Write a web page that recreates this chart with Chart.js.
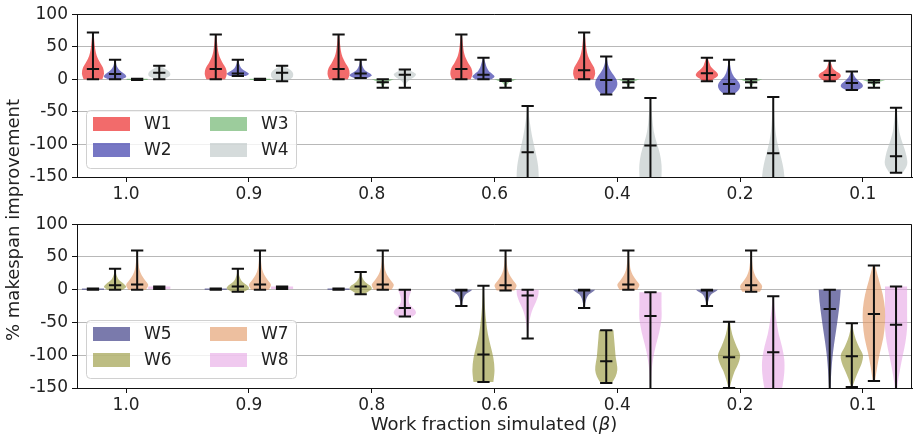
<!DOCTYPE html>
<html>
<head>
<meta charset="utf-8">
<script src="https://cdn.jsdelivr.net/npm/chart.js@4.4.0/dist/chart.umd.min.js"></script>
<style>
body { margin: 0; background: #fff; }
#wrap { position: relative; width: 914px; height: 441px; overflow: hidden; font-family: "DejaVu Sans", sans-serif; color: #222; }
canvas { position: absolute; left: 0; }
#ylab { position: absolute; left: -137px; top: 209px; width: 300px; height: 22px; line-height: 22px; text-align: center; font-size: 18px; transform: rotate(-90deg); }
#xlab { position: absolute; left: 244px; top: 413px; width: 500px; text-align: center; font-size: 18px; line-height: 22px; }
</style>
</head>
<body>
<div id="wrap">
  <canvas id="top" width="914" height="210" style="top:0"></canvas>
  <canvas id="bottom" width="914" height="231" style="top:210px"></canvas>
  <div id="ylab">% makespan improvement</div>
  <div id="xlab">Work fraction simulated (<i>β</i>)</div>
</div>
<script>
// x categories (work fraction) and y ticks
const groups = ['1.0', '0.9', '0.8', '0.6', '0.4', '0.2', '0.1'];
const yTicks = [-150, -100, -50, 0, 50, 100];
const offsets = [-0.27, -0.09, 0.09, 0.27];

// top panel
const topNames = ['W1', 'W2', 'W3', 'W4'];
const topColors = ['rgba(233,8,8,0.6)', 'rgba(28,28,157,0.6)', 'rgba(90,170,90,0.6)', 'rgba(185,195,195,0.6)'];

const w1Min = [0, 0, 0, 0, 0, -3, -3];
const w1Med = [16, 16, 16, 16, 14, 9.5, 6.5];
const w1Max = [72, 69, 69, 69, 72, 33, 28.5];
const w1Shape = [
  [0.85, 1.0, 0.9, 0.6, 0.35, 0.22, 0.15, 0.1, 0.05],
  [0.85, 1.0, 0.9, 0.6, 0.35, 0.22, 0.15, 0.1, 0.05],
  [0.85, 1.0, 0.9, 0.6, 0.35, 0.22, 0.15, 0.1, 0.05],
  [0.85, 1.0, 0.9, 0.6, 0.35, 0.22, 0.15, 0.1, 0.05],
  [0.85, 1.0, 0.9, 0.6, 0.35, 0.22, 0.15, 0.1, 0.05],
  [0.3, 0.7, 1.0, 0.9, 0.6, 0.35, 0.25, 0.15, 0.08],
  [0.4, 0.8, 1.0, 0.9, 0.55, 0.3, 0.2, 0.12, 0.06]
];

const w2Min = [0, 5, 2, 0, -23.5, -22, -16.5];
const w2Med = [8, 9, 9, 7, -1, -7, -5.5];
const w2Max = [30, 30, 30, 33, 35, 30, 12];
const w2Shape = [
  [0.6, 1.0, 0.9, 0.6, 0.35, 0.2, 0.12, 0.08, 0.04],
  [0.7, 1.0, 0.8, 0.5, 0.3, 0.2, 0.12, 0.08, 0.05],
  [0.6, 1.0, 0.85, 0.5, 0.3, 0.18, 0.12, 0.08, 0.05],
  [0.7, 1.0, 0.8, 0.5, 0.35, 0.25, 0.18, 0.1, 0.05],
  [0.4, 0.8, 1.0, 0.95, 0.7, 0.4, 0.2, 0.1, 0.05],
  [0.5, 0.9, 1.0, 0.8, 0.45, 0.25, 0.15, 0.08, 0.04],
  [0.5, 0.9, 1.0, 0.85, 0.6, 0.4, 0.25, 0.15, 0.08]
];

const w3Min = [-1, -1, -13, -13, -13, -13, -13];
const w3Med = [0, 0, -4.5, -2.5, -4.5, -4.5, -5];
const w3Max = [1, 1, 0, 0, 0, 0, -1];
const funnel = [0.05, 0.08, 0.1, 0.15, 0.2, 0.3, 0.45, 0.75, 1.0];
const w3Shape = [
  [0.9, 1.0, 0.9], [0.9, 1.0, 0.9], funnel, funnel, funnel, funnel, funnel
];

const w4Min = [0, -3, -13, -165, -165, -165, -143.5];
const w4Med = [10, 10, 7, -112, -101.5, -113.5, -118];
const w4Max = [21, 21, 15, -41, -28.5, -27, -43.5];
const w4Shape = [
  [0.3, 0.7, 0.95, 1.0, 0.95, 0.8, 0.55, 0.3, 0.1],
  [0.4, 0.75, 0.95, 1.0, 1.0, 0.9, 0.7, 0.4, 0.15],
  [0.05, 0.1, 0.15, 0.3, 0.6, 0.9, 1.0, 0.7, 0.3],
  [1.0, 1.0, 0.95, 0.8, 0.6, 0.4, 0.25, 0.12, 0.05],
  [0.9, 1.0, 1.0, 0.85, 0.55, 0.3, 0.18, 0.1, 0.05],
  [1.0, 1.0, 0.85, 0.6, 0.35, 0.2, 0.12, 0.07, 0.04],
  [0.6, 1.0, 0.95, 0.75, 0.5, 0.3, 0.2, 0.12, 0.05]
];

// bottom panel
const bottomNames = ['W5', 'W6', 'W7', 'W8'];
const bottomColors = ['rgba(33,33,117,0.6)', 'rgba(145,145,48,0.6)', 'rgba(225,148,95,0.6)', 'rgba(230,165,228,0.6)'];

const w5Min = [0, 0, 0, -25, -28, -25, -165];
const w5Med = [1, 1, 1, -1, -1, -1, -29.5];
const w5Max = [2, 2, 2, 0, 0, 0, 0];
const w5Shape = [
  [1, 1, 1], [1, 1, 1], [1, 1, 1], funnel, funnel, funnel,
  [0.02, 0.08, 0.15, 0.25, 0.4, 0.58, 0.75, 0.9, 1.0]
];

const w6Min = [0, -3, -7, -141, -142.5, -150, -148.5];
const w6Med = [7, 5, 5, -99, -109, -103, -101.5];
const w6Max = [32, 32, 27, 6, -62, -49, -51];
const w6Shape = [
  [0.7, 1.0, 0.85, 0.55, 0.3, 0.18, 0.1, 0.06, 0.03],
  [0.6, 1.0, 0.9, 0.55, 0.3, 0.18, 0.1, 0.06, 0.03],
  [0.3, 0.7, 1.0, 0.9, 0.55, 0.3, 0.15, 0.08, 0.04],
  [0.9, 1.0, 0.9, 0.65, 0.4, 0.25, 0.15, 0.08, 0.04],
  [0.5, 0.85, 1.0, 0.95, 0.85, 0.8, 0.75, 0.7, 0.65],
  [0.05, 0.25, 0.5, 0.85, 1.0, 0.7, 0.4, 0.2, 0.08],
  [0.05, 0.3, 0.6, 0.9, 1.0, 0.65, 0.35, 0.15, 0.05]
];

const w7Min = [0, 0, 0, -1, 0, -3, -139.5];
const w7Med = [8, 8, 8, 7, 8, 7, -37];
const w7Max = [60, 60, 60, 60, 60, 60, 37];
const tail = [0.8, 1.0, 0.7, 0.4, 0.22, 0.14, 0.09, 0.06, 0.04];
const w7Shape = [
  tail, tail, tail, tail, tail, tail,
  [0.1, 0.3, 0.55, 0.85, 1.0, 1.0, 0.8, 0.45, 0.1]
];

const w8Min = [1, 1, -41, -74.5, -165, -165, -165];
const w8Med = [3, 3, -28, -9, -40, -95.5, -53.5];
const w8Max = [5, 5, 0, 0, -4, -10, 5];
const w8Shape = [
  [1, 1, 1], [1, 1, 1],
  [0.7, 1.0, 0.9, 0.6, 0.4, 0.35, 0.4, 0.5, 0.6],
  [0.03, 0.06, 0.1, 0.18, 0.3, 0.5, 0.75, 0.95, 1.0],
  [0.02, 0.05, 0.1, 0.25, 0.5, 0.8, 1.0, 1.0, 1.0],
  [0.6, 0.85, 1.0, 1.0, 0.8, 0.5, 0.3, 0.15, 0.05],
  [0.05, 0.15, 0.35, 0.6, 0.85, 1.0, 1.0, 1.0, 1.0]
];

const topSeries = [
  { min: w1Min, med: w1Med, max: w1Max, shape: w1Shape },
  { min: w2Min, med: w2Med, max: w2Max, shape: w2Shape },
  { min: w3Min, med: w3Med, max: w3Max, shape: w3Shape },
  { min: w4Min, med: w4Med, max: w4Max, shape: w4Shape }
];
const bottomSeries = [
  { min: w5Min, med: w5Med, max: w5Max, shape: w5Shape },
  { min: w6Min, med: w6Med, max: w6Max, shape: w6Shape },
  { min: w7Min, med: w7Med, max: w7Max, shape: w7Shape },
  { min: w8Min, med: w8Med, max: w8Max, shape: w8Shape }
];

const FONT = '"DejaVu Sans", sans-serif';
const HALF = 0.09;   // max half width of a violin, in x units
const CAP = 0.05;    // half width of the min/median/max bars

function smoothSide(ctx, pts) {
  // catmull-rom through the outline points
  for (let i = 0; i < pts.length - 1; i++) {
    const p0 = pts[Math.max(i - 1, 0)], p1 = pts[i], p2 = pts[i + 1], p3 = pts[Math.min(i + 2, pts.length - 1)];
    ctx.bezierCurveTo(
      p1.x + (p2.x - p0.x) / 6, p1.y + (p2.y - p0.y) / 6,
      p2.x - (p3.x - p1.x) / 6, p2.y - (p3.y - p1.y) / 6,
      p2.x, p2.y);
  }
}

function drawViolin(ctx, xs, ys, pos, lo, med, hi, prof, color) {
  const cx = xs.getPixelForValue(pos);
  const hw = xs.getPixelForValue(pos + HALF) - cx;
  const n = prof.length;
  const right = prof.map((w, i) => ({ x: cx + w * hw, y: ys.getPixelForValue(lo + (hi - lo) * i / (n - 1)) }));
  const left = right.slice().reverse().map(p => ({ x: 2 * cx - p.x, y: p.y }));
  ctx.beginPath();
  ctx.moveTo(cx, right[0].y);
  ctx.lineTo(right[0].x, right[0].y);
  smoothSide(ctx, right);
  ctx.lineTo(cx, right[n - 1].y);
  ctx.lineTo(left[0].x, left[0].y);
  smoothSide(ctx, left);
  ctx.closePath();
  ctx.fillStyle = color;
  ctx.fill();

  const cw = xs.getPixelForValue(pos + CAP) - cx;
  ctx.strokeStyle = '#111';
  ctx.lineWidth = 2;
  ctx.beginPath();
  ctx.moveTo(cx, ys.getPixelForValue(lo));
  ctx.lineTo(cx, ys.getPixelForValue(hi));
  [lo, med, hi].forEach(v => {
    const y = ys.getPixelForValue(v);
    ctx.moveTo(cx - cw, y);
    ctx.lineTo(cx + cw, y);
  });
  ctx.stroke();
}

function drawLegend(ctx, names, colors) {
  const bx = 86.5, by = 110.5, bw = 210, bh = 58, r = 4;
  ctx.save();
  ctx.beginPath();
  ctx.roundRect(bx, by, bw, bh, r);
  ctx.fillStyle = 'rgba(255,255,255,0.8)';
  ctx.fill();
  ctx.strokeStyle = '#d0d0d0';
  ctx.lineWidth = 1;
  ctx.stroke();
  const cols = [93, 210];
  const rows = [117, 143];
  ctx.font = '17px ' + FONT;
  ctx.textBaseline = 'middle';
  names.forEach((name, i) => {
    const x = cols[Math.floor(i / 2)], y = rows[i % 2];
    ctx.fillStyle = colors[i];
    ctx.fillRect(x, y, 37, 14);
    ctx.fillStyle = '#222';
    ctx.fillText(name, x + 51, y + 7.5);
  });
  ctx.restore();
}

function violinPlugin(series, names, colors) {
  return {
    id: 'violins',
    afterDatasetsDraw(chart) {
      const { ctx, chartArea, scales } = chart;
      ctx.save();
      ctx.beginPath();
      ctx.rect(chartArea.left, chartArea.top, chartArea.right - chartArea.left, chartArea.bottom - chartArea.top);
      ctx.clip();
      series.forEach((s, k) => {
        groups.forEach((g, i) => {
          drawViolin(ctx, scales.x, scales.y, i + offsets[k], s.min[i], s.med[i], s.max[i], s.shape[i], colors[k]);
        });
      });
      ctx.restore();
    },
    afterDraw(chart) {
      // top and right spines; left and bottom come from the axis borders
      const { ctx, chartArea } = chart;
      ctx.save();
      ctx.strokeStyle = '#111';
      ctx.lineWidth = 1;
      ctx.beginPath();
      ctx.moveTo(chartArea.left, Math.round(chartArea.top) + 0.5);
      ctx.lineTo(Math.round(chartArea.right) - 0.5, Math.round(chartArea.top) + 0.5);
      ctx.lineTo(Math.round(chartArea.right) - 0.5, chartArea.bottom);
      ctx.stroke();
      ctx.restore();
      drawLegend(ctx, names, colors);
    }
  };
}

function makeChart(id, series, names, colors, padTop, xHeight) {
  return new Chart(document.getElementById(id), {
    type: 'scatter',
    data: {
      datasets: names.map((n, k) => ({
        label: n,
        data: groups.map((g, i) => ({ x: i + offsets[k], y: series[k].med[i] })),
        pointRadius: 0
      }))
    },
    options: {
      responsive: false,
      animation: false,
      devicePixelRatio: 1,
      layout: { padding: { top: padTop, right: 2, left: 0, bottom: 0 } },
      plugins: { legend: { display: false }, tooltip: { enabled: false } },
      scales: {
        x: {
          type: 'linear',
          min: -0.4,
          max: 6.4,
          afterBuildTicks: s => { s.ticks = groups.map((g, i) => ({ value: i })); },
          afterFit: s => { s.height = xHeight; },
          ticks: {
            autoSkip: false,
            maxRotation: 0,
            padding: 2,
            color: '#222',
            font: { family: FONT, size: 17 },
            callback: v => groups[v]
          },
          grid: { drawOnChartArea: false, drawTicks: true, tickLength: 5, tickColor: '#111' },
          border: { display: true, color: '#111', width: 1 }
        },
        y: {
          min: -150,
          max: 100,
          afterBuildTicks: s => { s.ticks = yTicks.map(v => ({ value: v })); },
          afterFit: s => { s.width = 77; },
          ticks: {
            padding: 4,
            color: '#222',
            font: { family: FONT, size: 17 },
            callback: v => String(v)
          },
          grid: { color: '#b8b8b8', lineWidth: 1, tickLength: 5, tickColor: '#111' },
          border: { display: true, color: '#111', width: 1 }
        }
      }
    },
    plugins: [violinPlugin(series, names, colors)]
  });
}

makeChart('top', topSeries, topNames, topColors, 10, 33);
makeChart('bottom', bottomSeries, bottomNames, bottomColors, 11, 53);
</script>
</body>
</html>
